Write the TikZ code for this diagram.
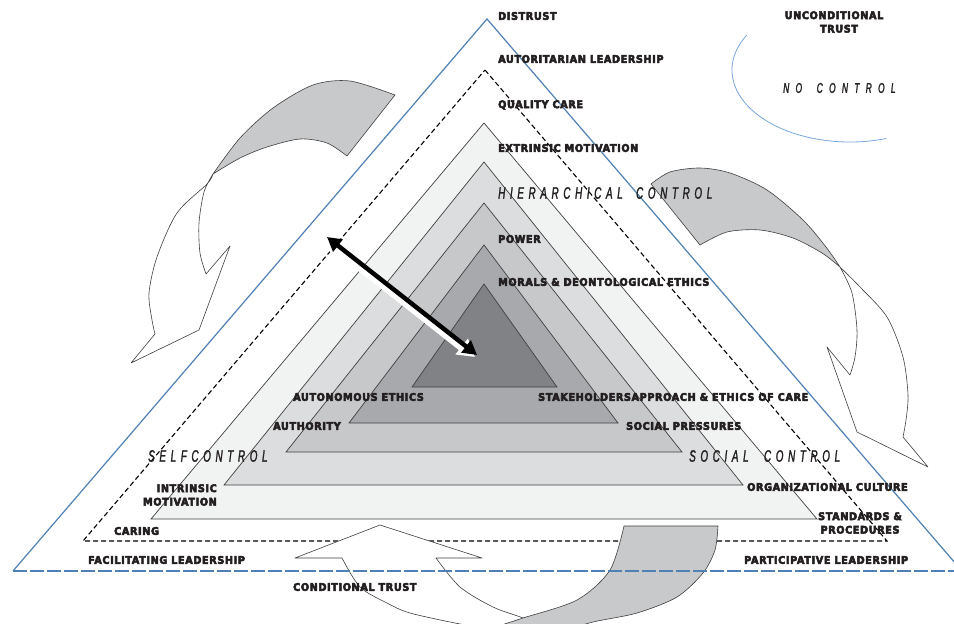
\documentclass[tikz,border=0pt]{standalone}
\usepackage{fontspec}
\setmainfont{DejaVu Sans}
\newfontfamily\lblfont{DejaVu Sans}[FakeStretch=0.92, LetterSpace=6, FakeBold=5]
\newfontfamily\ctlfont{Liberation Sans}[FakeStretch=0.6, LetterSpace=28, FakeBold=1.5]
\usetikzlibrary{arrows.meta}

\definecolor{ink}{HTML}{231F20}
\definecolor{frameblue}{HTML}{4F81B5}
\definecolor{ovalblue}{HTML}{7AA7DC}
\definecolor{bandA}{HTML}{F1F2F2}
\definecolor{bandB}{HTML}{DCDDDE}
\definecolor{bandC}{HTML}{C7C8CA}
\definecolor{bandD}{HTML}{A7A9AC}
\definecolor{bandE}{HTML}{808285}
\definecolor{ribbonfill}{HTML}{C8C9CB}
\definecolor{edge}{HTML}{404040}

\begin{document}
\begin{tikzpicture}[x=1pt,y=-1pt,
  lbl/.style={font=\lblfont\bfseries\fontsize{10.5}{13.5}\selectfont, text=ink, inner sep=0pt, anchor=west},
  ctl/.style={font=\ctlfont\itshape\fontsize{16.5}{18}\selectfont, text=ink, inner sep=0pt, anchor=west},
  band/.style={draw=edge, line width=0.7pt},
  ribbon/.style={draw=edge, line width=0.6pt, line join=round},
  frame/.style={draw=frameblue, line width=1.2pt},
]
\useasboundingbox (0,0) rectangle (954,624);
\fill[white] (0,0) rectangle (954,624);

% nested grey triangles
\filldraw[band, fill=bandA] (484,123) -- (817,519) -- (151,519) -- cycle;
\filldraw[band, fill=bandB] (484,162) -- (743,485) -- (224,485) -- cycle;
\filldraw[band, fill=bandC] (484,203) -- (682,452) -- (286,452) -- cycle;
\filldraw[band, fill=bandD] (484,245) -- (618,423) -- (349,423) -- cycle;
\filldraw[band, fill=bandE] (484,284) -- (557,387) -- (412,387) -- cycle;

% dashed inner frame
\draw[black, line width=1.1pt, dash pattern=on 5pt off 3pt] (485,70) -- (887,541) -- (83,541) -- cycle;

% twisted arrow, upper left
\filldraw[ribbon, fill=ribbonfill]
  plot[smooth] coordinates {(395,95) (350,81) (313,85) (273,108) (240,138) (213,174)}
  -- plot[smooth] coordinates {(213,174) (240,158) (267,147) (300,139) (327,143) (347,156)}
  -- cycle;
\filldraw[ribbon, fill=white]
  plot[smooth] coordinates {(213,174) (207,184) (177,213) (157,257) (149,293) (152,320) (155,334)}
  -- (131,363) -- (199,330) -- (230,246)
  -- plot[smooth] coordinates {(206,274) (200,253) (199,223) (204,192) (213,174)}
  -- cycle;

% twisted arrow, right
\filldraw[ribbon, fill=ribbonfill]
  plot[smooth] coordinates {(651,184) (670,172) (700,168) (730,173) (767,190) (803,220) (826,247) (840,267)}
  -- plot[smooth] coordinates {(840,267) (822,253) (793,238) (760,230) (727,232) (700,245)}
  -- cycle;
\filldraw[ribbon, fill=white]
  plot[smooth] coordinates {(840,267) (860,287) (887,317) (903,357) (908,395) (906,420) (903,437)}
  -- (928,467) -- (857,432) -- (827,347)
  -- plot[smooth] coordinates {(850,375) (855,357) (857,330) (852,293) (840,267)}
  -- cycle;

% twisted arrow, bottom
\filldraw[ribbon, fill=white]
  (380,525) -- (482,558)
  -- plot[smooth] coordinates {(436,558) (460,587) (493,607) (523,618) (555,632)}
  -- (520,645)
  -- plot[smooth] coordinates {(505,632) (460,624) (410,613) (387,603) (360,587) (342,558)}
  -- (295,558) -- cycle;
\filldraw[ribbon, fill=ribbonfill]
  (624,526) -- (718,526)
  -- plot[smooth] coordinates {(718,526) (715,550) (703,573) (677,597) (637,613) (593,622) (560,632)}
  -- (480,645)
  -- plot[smooth] coordinates {(492,628) (523,618) (577,600) (610,570) (624,526)}
  -- cycle;

% outer frame
\draw[frame] (13,571) -- (487,19) -- (962,571);
\draw[frame, dash pattern=on 14pt off 3pt] (13,571) -- (962,571);

% open oval, upper right (centre 850,70)
\draw[ovalblue, line width=0.8pt] (746.8,35.1)
  arc[start angle=209, end angle=72, x radius=118, y radius=72];

% double arrow through the layers
\coordinate (dL) at (327,237);
\coordinate (dR) at (477,355);
\draw[white, line width=9pt, {Triangle[length=17pt,width=19pt]}-{Triangle[length=17pt,width=19pt]}]
  ([shift={(-2,2)}]dL) -- ([shift={(-2,2)}]dR);
\draw[black, line width=4.5pt, {Triangle[length=14pt,width=15pt]}-{Triangle[length=14pt,width=15pt]}]
  (dL) -- (dR);

% labels along the axis
\node[lbl] (distrust) at (498,16) {DISTRUST};
\node[lbl] (autor) at (498,59) {AUTORITARIAN LEADERSHIP};
\node[lbl] (quality) at (498,105) {QUALITY CARE};
\node[lbl] (extr) at (498,148) {EXTRINSIC MOTIVATION};
\node[ctl] (hier) at (498,193) {HIERARCHICAL \hspace{6pt}CONTROL};
\node[lbl] (power) at (498,239) {POWER};
\node[lbl] (morals) at (498,282) {MORALS \& DEONTOLOGICAL ETHICS};

% upper right corner
\node[lbl, align=center, anchor=center] (uncond) at (834,22) {UNCONDITIONAL\\\hspace{10pt}TRUST};
\node[ctl, font=\ctlfont\itshape\fontsize{14}{16}\selectfont\addfontfeature{LetterSpace=45}] (noctl) at (783,88) {NO \hspace{6pt}CONTROL};

% left side
\node[lbl] (auton) at (293,397) {AUTONOMOUS ETHICS};
\node[lbl] (auth) at (273,426) {AUTHORITY};
\node[ctl] (self) at (148,456) {SELFCONTROL};
\node[lbl, align=right, anchor=east] (intr) at (217,495) {INTRINSIC\\MOTIVATION};
\node[lbl] (caring) at (114,531) {CARING};
\node[lbl] (facil) at (88,560) {FACILITATING LEADERSHIP};
\node[lbl] (cond) at (293,587) {CONDITIONAL TRUST};

% right side
\node[lbl] (stake) at (538,397) {STAKEHOLDERSAPPROACH \& ETHICS OF CARE};
\node[lbl] (socp) at (626,426) {SOCIAL PRESSURES};
\node[ctl] (socc) at (689,456) {SOCIAL \hspace{8pt}CONTROL};
\node[lbl] (org) at (747,487) {ORGANIZATIONAL CULTURE};
\node[lbl, align=center, anchor=center] (stand) at (860,523) {STANDARDS \&\\PROCEDURES};
\node[lbl] (partic) at (744,560) {PARTICIPATIVE LEADERSHIP};
\end{tikzpicture}
\end{document}
